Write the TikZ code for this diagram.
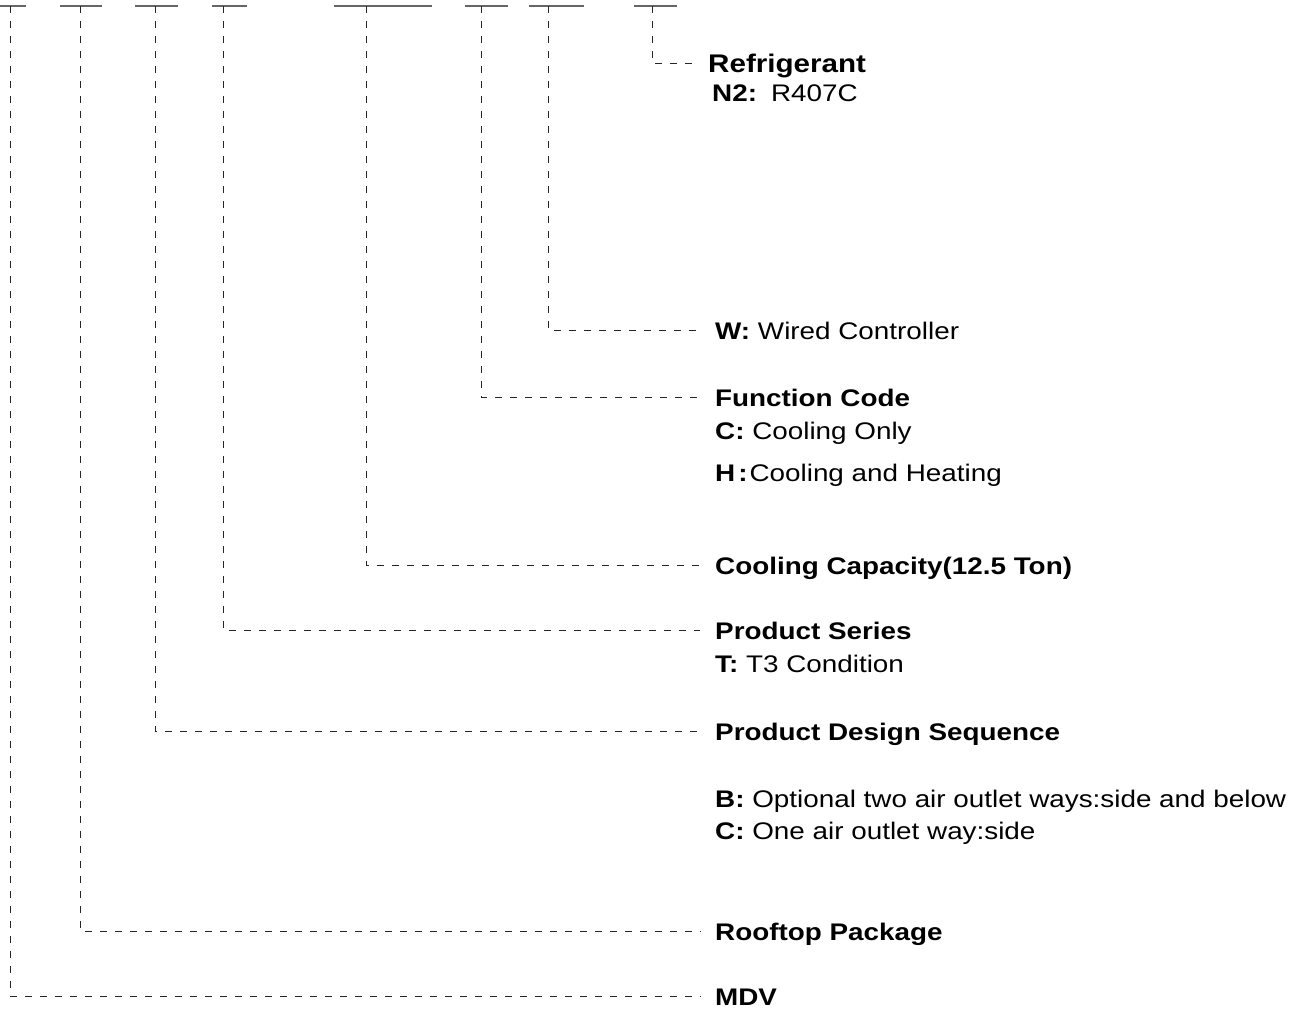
\documentclass[tikz,border=0pt]{standalone}
\usepackage{fontspec}
\setmainfont{Liberation Sans}[FakeStretch=1.16]
\begin{document}
\begin{tikzpicture}[x=1pt,y=-1pt,
  lbl/.style={anchor=base west, inner sep=0pt, text height=17.5pt, text depth=0pt,
    font=\fontsize{24}{28}\selectfont\bfseries},
  txt/.style={anchor=base west, inner sep=0pt, text height=17.5pt, text depth=0pt,
    font=\fontsize{24}{28}\selectfont},
  uline/.style={draw=black!60, line width=1.5pt},
  dl/.style={draw=black!85, line width=0.9pt, dash pattern=on 7pt off 8pt}]
\useasboundingbox (0,0) rectangle (1304,1012);
% underlines
\foreach \a/\b in {0/26, 60/102, 135/178, 212/247, 334/432, 465/508, 529/584, 634/677}{
  \draw[uline] (\a,6) -- (\b,6);
}
\coordinate (k1) at (10,6);
\coordinate (k2) at (80,6);
\coordinate (k3) at (155,6);
\coordinate (k4) at (223,6);
\coordinate (k5) at (366,6);
\coordinate (k6) at (481,6);
\coordinate (k7) at (548,6);
\coordinate (k8) at (652,6);
% labels
\node[lbl, font=\fontsize{25.5}{28}\selectfont\bfseries] (refr) at (708,72) {Refrigerant};
\node[txt] (n2) at (712,101) {\textbf{N2:}\hspace{14pt}R407C};
\node[txt] (w) at (715,339) {\textbf{W:} Wired Controller};
\node[lbl] (func) at (715,406) {Function Code};
\node[txt] (fc) at (715,439) {\textbf{C:} Cooling Only};
\node[txt] (fh) at (715,481) {\textbf{H}\hspace{3pt}\textbf{:}\hspace{2pt}Cooling and Heating};
\node[lbl] (cap) at (715,574) {Cooling Capacity(12.5 Ton)};
\node[lbl] (ser) at (715,639) {Product Series};
\node[txt] (st) at (715,672) {\textbf{T:} T3 Condition};
\node[lbl] (pds) at (715,740) {Product Design Sequence};
\node[txt] (pb) at (715,807) {\textbf{B:} Optional two air outlet ways:side and below};
\node[txt] (pc) at (715,839) {\textbf{C:} One air outlet way:side};
\node[lbl] (roof) at (715,940) {Rooftop Package};
\node[lbl] (mdv) at (715,1005) {MDV};
% connectors
\draw[dl] (k8) |- ([xshift=-13pt]refr.west);
\draw[dl] (k7) |- ([xshift=-15pt]w.west);
\draw[dl] (k6) |- ([xshift=-15pt]func.west);
\draw[dl] (k5) |- ([xshift=-15pt]cap.west);
\draw[dl] (k4) |- ([xshift=-15pt]ser.west);
\draw[dl] (k3) |- ([xshift=-15pt]pds.west);
\draw[dl] (k2) |- ([xshift=-15pt]roof.west);
\draw[dl] (k1) |- ([xshift=-15pt]mdv.west);
\end{tikzpicture}
\end{document}
